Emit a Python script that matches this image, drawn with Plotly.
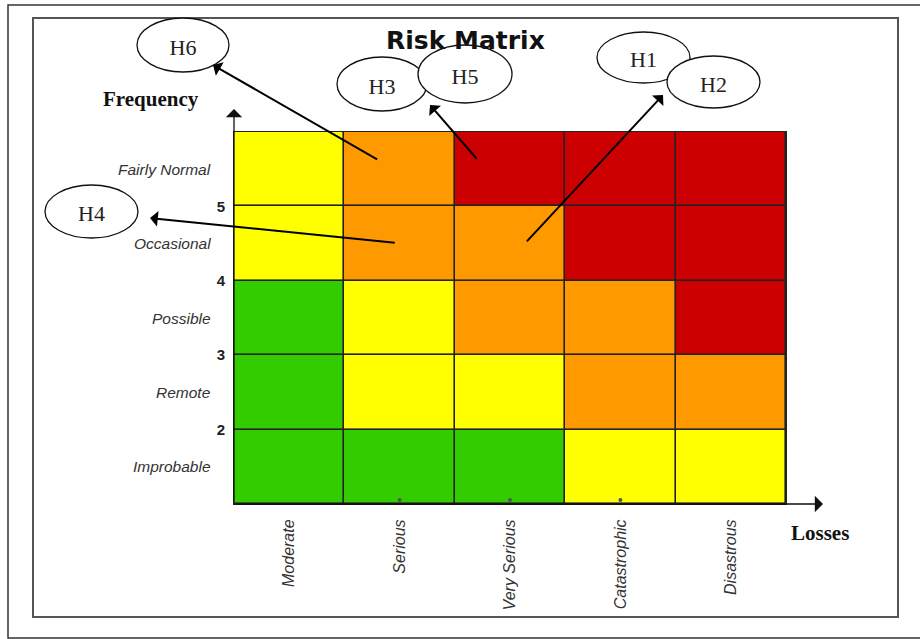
import plotly.graph_objects as go

# ---- data -------------------------------------------------------------
losses = ["Moderate", "Serious", "Very Serious", "Catastrophic", "Disastrous"]
frequency = ["Improbable", "Remote", "Possible", "Occasional", "Fairly Normal"]
freq_bounds = [2, 3, 4, 5]

# risk level per cell: 0 = low (green), 1 = medium (yellow), 2 = high (orange), 3 = extreme (red)
# rows listed bottom (Improbable) to top (Fairly Normal)
risk_improbable = [0, 0, 0, 1, 1]
risk_remote = [0, 1, 1, 2, 2]
risk_possible = [0, 1, 2, 2, 3]
risk_occasional = [1, 2, 2, 3, 3]
risk_fairly_normal = [1, 2, 3, 3, 3]

# hazards: label, loss column position, frequency position (cell the arrow starts from)
hazard_labels = ["H6", "H3/H5", "H1/H2", "H4"]
hazard_loss = [1.31, 2.21, 2.64, 1.47]
hazard_freq = [5.62, 5.62, 4.51, 4.51]

# ---- geometry of the figure ----------------------------------------------
W, H = 920, 639
L, R, T, B = 234, 134, 132, 135
PW, PH = W - L - R, H - T - B


def px(x):
    return (x - L) / PW


def py(y):
    return (H - B - y) / PH


def dx(x):
    return (x - L) / PW * 5


def dy(y):
    return 1 + (H - B - y) / PH * 5


COLORS = ["#33CC00", "#FFFF00", "#FF9900", "#CC0000"]
colorscale = []
for i, c in enumerate(COLORS):
    colorscale += [[i / 4, c], [(i + 1) / 4, c]]

z = [risk_improbable, risk_remote, risk_possible, risk_occasional, risk_fairly_normal]
x_centers = [i + 0.5 for i in range(len(losses))]
y_centers = [i + 1.5 for i in range(len(frequency))]

fig = go.Figure()
fig.add_trace(go.Heatmap(
    z=z, x=x_centers, y=y_centers,
    colorscale=colorscale, zmin=-0.5, zmax=3.5,
    showscale=False, xgap=1.6, ygap=1.6, hoverinfo="skip",
))

# small tick dots under the middle columns
fig.add_trace(go.Scatter(
    x=x_centers[1:4], y=[1.055] * 3, mode="markers",
    marker=dict(size=4, color="#555555"), showlegend=False,
    hoverinfo="skip", cliponaxis=False,
))

annotations = []

# frequency names beside the rows
for name, yc in zip(frequency, y_centers):
    annotations.append(dict(
        text=f"<i>{name}</i>", xref="paper", yref="y", x=0, y=yc,
        xshift=-21, xanchor="right", yanchor="middle", showarrow=False,
        font=dict(family="Liberation Sans", size=15.5, color="#333333"),
    ))

# axis arrows
annotations.append(dict(
    text="", xref="paper", yref="paper", x=0, y=py(109), ax=0, ay=395,
    axref="pixel", ayref="pixel", showarrow=True, arrowhead=1,
    arrowsize=2.1, arrowwidth=1.3, arrowcolor="#111111", standoff=0,
))
annotations.append(dict(
    text="", xref="paper", yref="paper", x=px(823), y=0, ax=-589, ay=0,
    axref="pixel", ayref="pixel", showarrow=True, arrowhead=1,
    arrowsize=2.1, arrowwidth=1.3, arrowcolor="#111111", standoff=0,
))

# hazard arrows pointing out to their labels
heads = [(213, 65), (430, 105), (663, 95), (150, 218)]
for (hx, hy), tx, ty in zip(heads, hazard_loss, hazard_freq):
    annotations.append(dict(
        text="", xref="x", yref="y", axref="x", ayref="y",
        x=dx(hx), y=dy(hy), ax=tx, ay=ty, showarrow=True,
        arrowhead=1, arrowsize=1.3, arrowwidth=2, arrowcolor="#000000",
        standoff=0,
    ))

# titles
annotations.append(dict(
    text="<b>Risk Matrix</b>", xref="paper", yref="paper", x=px(465), y=py(40),
    xanchor="center", yanchor="middle", showarrow=False,
    font=dict(family="DejaVu Sans", size=25, color="#111111"),
))
annotations.append(dict(
    text="<b>Frequency</b>", xref="paper", yref="paper", x=px(151), y=py(99),
    xanchor="center", yanchor="middle", showarrow=False,
    font=dict(family="Liberation Serif", size=21, color="#111111"),
))
annotations.append(dict(
    text="<b>Losses</b>", xref="paper", yref="paper", x=px(820), y=py(533),
    xanchor="center", yanchor="middle", showarrow=False,
    font=dict(family="Liberation Serif", size=21, color="#111111"),
))

shapes = []
# page frames
shapes.append(dict(type="rect", xref="paper", yref="paper",
                   x0=px(8), x1=px(930), y0=py(5), y1=py(638),
                   line=dict(color="#333333", width=1.5), layer="below"))
shapes.append(dict(type="rect", xref="paper", yref="paper",
                   x0=px(33), x1=px(898), y0=py(18), y1=py(617),
                   line=dict(color="#555555", width=2), layer="below"))

# hazard ellipses (pixel boxes: x0, x1, y0, y1)
ellipses = [
    ("H6", 137, 229, 18, 72),
    ("H3", 337, 427, 57, 111),
    ("H5", 418, 512, 45, 103),
    ("H1", 597, 690, 32, 83),
    ("H2", 667, 760, 56, 108),
    ("H4", 45, 138, 185, 238),
]
for name, x0, x1, y0, y1 in ellipses:
    shapes.append(dict(
        type="circle", xref="paper", yref="paper",
        x0=px(x0), x1=px(x1), y0=py(y1), y1=py(y0),
        fillcolor="white", line=dict(color="#111111", width=1.3),
        layer="above",
        label=dict(text=name, font=dict(family="Liberation Serif", size=22, color="#222222")),
    ))

fig.update_layout(
    width=W, height=H,
    margin=dict(l=L, r=R, t=T, b=B),
    paper_bgcolor="white", plot_bgcolor="#222222",
    showlegend=False,
    annotations=annotations, shapes=shapes,
    xaxis=dict(
        range=[0, 5], tickvals=x_centers,
        ticktext=[f"<i>{n}</i>" for n in losses], tickangle=-90,
        tickfont=dict(family="Liberation Sans", size=16, color="#333333"),
        showgrid=False, zeroline=False, ticks="", ticklabelstandoff=8,
        showline=True, linecolor="#222222", linewidth=1, mirror=True,
        fixedrange=True,
    ),
    yaxis=dict(
        range=[1, 6], tickvals=freq_bounds,
        ticktext=[f"<b>{v}</b>" for v in freq_bounds],
        tickfont=dict(family="Liberation Sans", size=15, color="#222222"),
        showgrid=False, zeroline=False, ticks="", ticklabelstandoff=5,
        showline=True, linecolor="#222222", linewidth=1, mirror=True,
        fixedrange=True,
    ),
)

fig.write_html("out.html")
